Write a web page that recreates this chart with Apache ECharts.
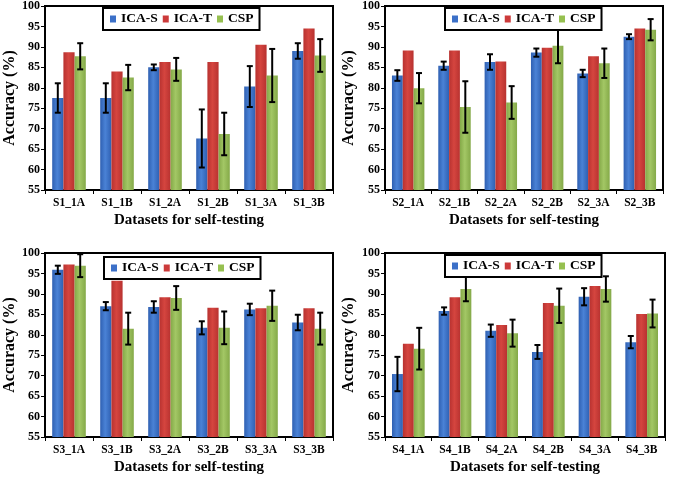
<!DOCTYPE html>
<html>
<head>
<meta charset="utf-8">
<script src="https://cdn.jsdelivr.net/npm/echarts@6/dist/echarts.min.js"></script>
<style>
html,body{margin:0;padding:0;background:#fff;}
#chart{width:675px;height:478px;}
</style>
</head>
<body>
<div id="chart"></div>
<script>
// ---- Data ----
const seriesNames = ['ICA-S', 'ICA-T', 'CSP'];
const yTicks = [55, 60, 65, 70, 75, 80, 85, 90, 95, 100];

const cats1 = ['S1_1A', 'S1_1B', 'S1_2A', 'S1_2B', 'S1_3A', 'S1_3B'];
const icaS1 = [77.5, 77.5, 85.0, 67.6, 80.3, 89.0];
const icaT1 = [88.7, 84.0, 86.3, 86.3, 90.5, 94.5];
const csp1 = [87.7, 82.5, 84.5, 68.7, 83.0, 87.9];
const icaSErr1 = [3.6, 3.6, 0.7, 7.1, 5.0, 1.9];
const cspErr1 = [3.2, 3.1, 2.8, 5.2, 6.5, 4.0];

const cats2 = ['S2_1A', 'S2_1B', 'S2_2A', 'S2_2B', 'S2_3A', 'S2_3B'];
const icaS2 = [83.0, 85.4, 86.3, 88.6, 83.5, 92.5];
const icaT2 = [89.1, 89.1, 86.4, 89.8, 87.7, 94.5];
const csp2 = [79.9, 75.3, 76.4, 90.3, 86.0, 94.2];
const icaSErr2 = [1.3, 1.0, 1.9, 1.0, 0.9, 0.6];
const cspErr2 = [3.7, 6.3, 4.0, 4.3, 3.6, 2.6];

const cats3 = ['S3_1A', 'S3_1B', 'S3_2A', 'S3_2B', 'S3_3A', 'S3_3B'];
const icaS3 = [95.9, 87.0, 86.8, 81.7, 86.2, 83.0];
const icaT3 = [97.2, 93.2, 89.2, 86.6, 86.5, 86.5];
const csp3 = [96.9, 81.5, 89.0, 81.7, 87.1, 81.5];
const icaSErr3 = [1.0, 1.0, 1.4, 1.6, 1.4, 1.9];
const cspErr3 = [2.8, 3.9, 2.9, 4.0, 3.7, 3.9];

const cats4 = ['S4_1A', 'S4_1B', 'S4_2A', 'S4_2B', 'S4_3A', 'S4_3B'];
const icaS4 = [70.4, 85.8, 81.0, 75.8, 89.3, 78.2];
const icaT4 = [77.8, 89.2, 82.4, 87.8, 91.9, 85.1];
const csp4 = [76.6, 91.2, 80.4, 87.1, 91.2, 85.2];
const icaSErr4 = [4.2, 0.9, 1.5, 1.7, 2.1, 1.5];
const cspErr4 = [5.1, 3.0, 3.3, 4.2, 3.1, 3.4];

const xTitle = 'Datasets for self-testing';
const yTitle = 'Accuracy (%)';

// ---- Layout / styles ----
const FONT = '"Liberation Serif", "Times New Roman", serif';
const grids = [
  {left: 45, top: 6, width: 288, height: 184},
  {left: 385, top: 6, width: 278, height: 184},
  {left: 45, top: 253, width: 288, height: 184},
  {left: 385, top: 253, width: 280, height: 184}
];
const legendPos = [
  {left: 103, top: 8},
  {left: 445, top: 8},
  {left: 104, top: 257},
  {left: 445, top: 255}
];
const yNameGap = [25, 28, 25, 28];

function grad(edge, mid) {
  return {type: 'linear', x: 0, y: 0, x2: 1, y2: 0,
    colorStops: [{offset: 0, color: edge}, {offset: 0.45, color: mid}, {offset: 1, color: edge}]};
}
const colors = [grad('#2f60b2', '#4a82d6'), grad('#b83230', '#d5453f'), grad('#84a948', '#a3c765')];
const legendColors = ['#3c70c8', '#cc3a3a', '#96c050'];

const panels = [
  {cats: cats1, vals: [icaS1, icaT1, csp1], errS: icaSErr1, errC: cspErr1},
  {cats: cats2, vals: [icaS2, icaT2, csp2], errS: icaSErr2, errC: cspErr2},
  {cats: cats3, vals: [icaS3, icaT3, csp3], errS: icaSErr3, errC: cspErr3},
  {cats: cats4, vals: [icaS4, icaT4, csp4], errS: icaSErr4, errC: cspErr4}
];

const CAT_GAP = 0.30;
function errRender(sign) {
  return function (params, api) {
    const i = api.value(0), v = api.value(1), e = api.value(2);
    const c = api.coord([i, v]);
    const band = api.size([1, 0])[0];
    const bw = band * (1 - CAT_GAP) / 3;
    const cx = c[0] + sign * bw;
    const hi = api.coord([i, v + e])[1];
    const lo = api.coord([i, v - e])[1];
    const cap = 3;
    const st = {stroke: '#000', lineWidth: 2};
    return {type: 'group', children: [
      {type: 'line', shape: {x1: cx, y1: hi, x2: cx, y2: lo}, style: st},
      {type: 'line', shape: {x1: cx - cap, y1: hi, x2: cx + cap, y2: hi}, style: st},
      {type: 'line', shape: {x1: cx - cap, y1: lo, x2: cx + cap, y2: lo}, style: st}
    ]};
  };
}

const option = {
  backgroundColor: '#fff',
  animation: false,
  grid: grids.map(g => Object.assign({show: true, borderColor: '#000', borderWidth: 2, backgroundColor: 'transparent'}, g)),
  legend: legendPos.map(p => ({
    left: p.left, top: p.top,
    data: seriesNames.map((n, k) => ({name: n, itemStyle: {color: legendColors[k]}})),
    orient: 'horizontal',
    itemWidth: 6, itemHeight: 7, itemGap: 5,
    padding: [4, 6, 4, 7],
    borderColor: '#000', borderWidth: 2,
    backgroundColor: '#fff',
    selectedMode: false,
    icon: 'rect',
    textStyle: {fontFamily: FONT, fontWeight: 'bold', fontSize: 13.5, color: '#000'},
    z: 10
  })),
  xAxis: panels.map((p, k) => ({
    type: 'category', gridIndex: k, data: p.cats,
    name: xTitle, nameLocation: 'middle', nameGap: 23,
    nameTextStyle: {fontFamily: FONT, fontWeight: 'bold', fontSize: 15, color: '#000'},
    axisLine: {lineStyle: {color: '#000', width: 1.5}},
    axisTick: {show: true, alignWithLabel: false, length: 4, lineStyle: {color: '#000'}},
    axisLabel: {fontFamily: FONT, fontWeight: 'bold', fontSize: 11.5, color: '#000', margin: 7},
    splitLine: {show: false}
  })),
  yAxis: panels.map((p, k) => ({
    type: 'value', gridIndex: k, min: yTicks[0], max: yTicks[yTicks.length - 1], interval: 5,
    name: yTitle, nameLocation: 'middle', nameRotate: 90, nameGap: yNameGap[k],
    nameTextStyle: {fontFamily: FONT, fontWeight: 'bold', fontSize: 16, color: '#000'},
    axisLine: {show: true, lineStyle: {color: '#000', width: 1.5}},
    axisTick: {show: true, length: 4, lineStyle: {color: '#000'}},
    axisLabel: {fontFamily: FONT, fontWeight: 'bold', fontSize: 12, color: '#000', margin: 5},
    splitLine: {show: false}
  })),
  series: []
};

panels.forEach((p, k) => {
  seriesNames.forEach((n, s) => {
    option.series.push({
      type: 'bar', name: n, xAxisIndex: k, yAxisIndex: k,
      data: p.vals[s],
      barGap: '0%', barCategoryGap: (CAT_GAP * 100) + '%',
      itemStyle: {color: colors[s]},
      z: 2
    });
  });
  option.series.push({
    type: 'custom', name: 'errS' + k, xAxisIndex: k, yAxisIndex: k,
    renderItem: errRender(-1), encode: {x: 0, y: 1}, z: 3,
    data: p.vals[0].map((v, i) => [i, v, p.errS[i]])
  });
  option.series.push({
    type: 'custom', name: 'errC' + k, xAxisIndex: k, yAxisIndex: k,
    renderItem: errRender(1), encode: {x: 0, y: 1}, z: 3,
    data: p.vals[2].map((v, i) => [i, v, p.errC[i]])
  });
});

const chart = echarts.init(document.getElementById('chart'), null, {renderer: 'canvas'});
chart.setOption(option);
</script>
</body>
</html>
